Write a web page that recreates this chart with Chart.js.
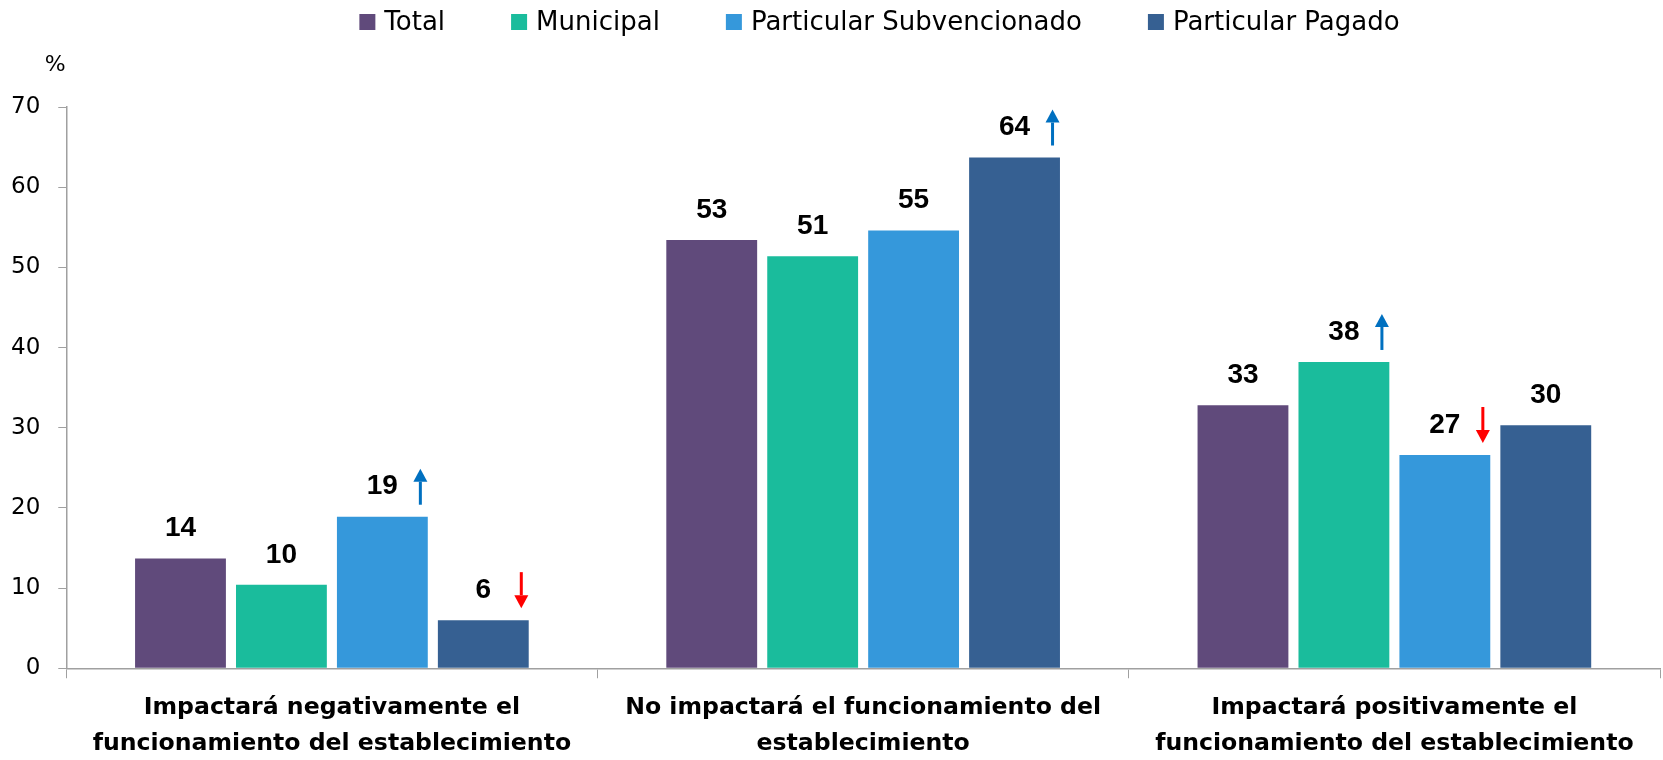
<!DOCTYPE html>
<html>
<head>
<meta charset="utf-8">
<script src="https://cdn.jsdelivr.net/npm/chart.js@4.4.1/dist/chart.umd.min.js"></script>
<style>
    body { margin: 0; background: #fff; }
    #wrap { width: 1663px; height: 760px; position: relative; }
</style>
</head>
<body>
<div id="wrap"><canvas id="impactChart"></canvas></div>
<script>
const categories = [
    ['Impactará negativamente el', 'funcionamiento del establecimiento'],
    ['No impactará el funcionamiento del', 'establecimiento'],
    ['Impactará positivamente el', 'funcionamiento del establecimiento']
];
const seriesNames = ['Total', 'Municipal', 'Particular Subvencionado', 'Particular Pagado'];
const totalValues = [13.7, 53.4, 32.8];
const municipalValues = [10.4, 51.4, 38.2];
const subvencionadoValues = [18.9, 54.6, 26.6];
const pagadoValues = [6.0, 63.7, 30.3];

// trend arrows next to the value label: 'up', 'down' or null
const totalArrows = [null, null, null];
const municipalArrows = [null, null, 'up'];
const subvencionadoArrows = ['up', null, 'down'];
const pagadoArrows = ['down', 'up', null];

const yMin = 0;
const yMax = 70;
const yStep = 10;

const seriesColors = ['#604A7B', '#1ABC9C', '#3598DB', '#366092'];
const arrowColors = { up: '#0070C0', down: '#FF0000' };

const FONT = '"DejaVu Sans", sans-serif';

function drawArrow(ctx, x, y, dir) {
    const half = 18;
    const head = 13;
    ctx.strokeStyle = arrowColors[dir];
    ctx.fillStyle = arrowColors[dir];
    ctx.lineWidth = 3;
    ctx.beginPath();
    if (dir === 'up') {
        ctx.moveTo(x, y + half);
        ctx.lineTo(x, y - half + head);
        ctx.stroke();
        ctx.beginPath();
        ctx.moveTo(x, y - half);
        ctx.lineTo(x - 7, y - half + head);
        ctx.lineTo(x + 7, y - half + head);
    } else {
        ctx.moveTo(x, y - half);
        ctx.lineTo(x, y + half - head);
        ctx.stroke();
        ctx.beginPath();
        ctx.moveTo(x, y + half);
        ctx.lineTo(x - 7, y + half - head);
        ctx.lineTo(x + 7, y + half - head);
    }
    ctx.closePath();
    ctx.fill();
}

const valueLabels = {
    id: 'valueLabels',
    afterDatasetsDraw(chart) {
        const ctx = chart.ctx;
        ctx.save();
        ctx.font = 'bold 28px "Liberation Sans", Arial, sans-serif';
        ctx.textAlign = 'center';
        ctx.textBaseline = 'middle';
        chart.data.datasets.forEach((ds, i) => {
            chart.getDatasetMeta(i).data.forEach((bar, j) => {
                const y = bar.y - 30;
                ctx.fillStyle = '#000';
                ctx.fillText(String(Math.round(ds.data[j])), bar.x, y);
                const dir = ds.arrows[j];
                if (dir) drawArrow(ctx, bar.x + 38, y, dir);
            });
        });
        ctx.restore();
    }
};

// legend + percent sign drawn on the canvas
const topTexts = {
    id: 'topTexts',
    afterDraw(chart) {
        const ctx = chart.ctx;
        const yScale = chart.scales.y;
        ctx.save();
        ctx.fillStyle = '#000';
        ctx.textBaseline = 'middle';
        ctx.font = '22px "DejaVu Sans", sans-serif';
        ctx.textAlign = 'center';
        ctx.fillText('%', yScale.right - 11, yScale.top - 42);

        ctx.font = '26px ' + FONT;
        ctx.textAlign = 'left';
        const box = 16, gapText = 9, gapItem = 66;
        const widths = chart.data.datasets.map(ds => box + gapText + ctx.measureText(ds.label).width);
        const total = widths.reduce((a, b) => a + b, 0) + gapItem * (widths.length - 1);
        let x = (chart.width - total) / 2 + 48;
        const y = 22;
        chart.data.datasets.forEach((ds, i) => {
            ctx.fillStyle = ds.backgroundColor;
            ctx.fillRect(x, y - box / 2, box, box);
            ctx.fillStyle = '#000';
            ctx.fillText(ds.label, x + box + gapText, y + 1);
            x += widths[i] + gapItem;
        });
        ctx.restore();
    }
};

const valueSets = [totalValues, municipalValues, subvencionadoValues, pagadoValues];
const arrowSets = [totalArrows, municipalArrows, subvencionadoArrows, pagadoArrows];

new Chart(document.getElementById('impactChart').getContext('2d'), {
    type: 'bar',
    data: {
        labels: categories,
        datasets: seriesNames.map((name, i) => ({
            label: name,
            data: valueSets[i],
            arrows: arrowSets[i],
            backgroundColor: seriesColors[i],
            categoryPercentage: 0.76,
            barPercentage: 0.9
        }))
    },
    options: {
        responsive: true,
        maintainAspectRatio: false,
        animation: false,
        layout: {
            padding: { top: 107, left: -7, right: 3, bottom: -14 }
        },
        plugins: {
            legend: { display: false },
            tooltip: { enabled: false }
        },
        scales: {
            x: {
                grid: {
                    offset: true,
                    drawOnChartArea: false,
                    tickLength: 10,
                    color: '#A0A0A0'
                },
                border: { color: '#A0A0A0', width: 1.5 },
                ticks: {
                    color: '#000',
                    padding: 12,
                    maxRotation: 0,
                    font: { family: FONT, size: 23.6, weight: 'bold', lineHeight: 1.52 }
                }
            },
            y: {
                min: yMin,
                max: yMax,
                grid: {
                    drawOnChartArea: false,
                    tickLength: 8,
                    color: '#A0A0A0'
                },
                border: { color: '#A0A0A0', width: 1.5 },
                ticks: {
                    stepSize: yStep,
                    color: '#000',
                    padding: 18,
                    font: { family: '"DejaVu Sans", sans-serif', size: 23 }
                }
            }
        }
    },
    plugins: [valueLabels, topTexts]
});
</script>
</body>
</html>
